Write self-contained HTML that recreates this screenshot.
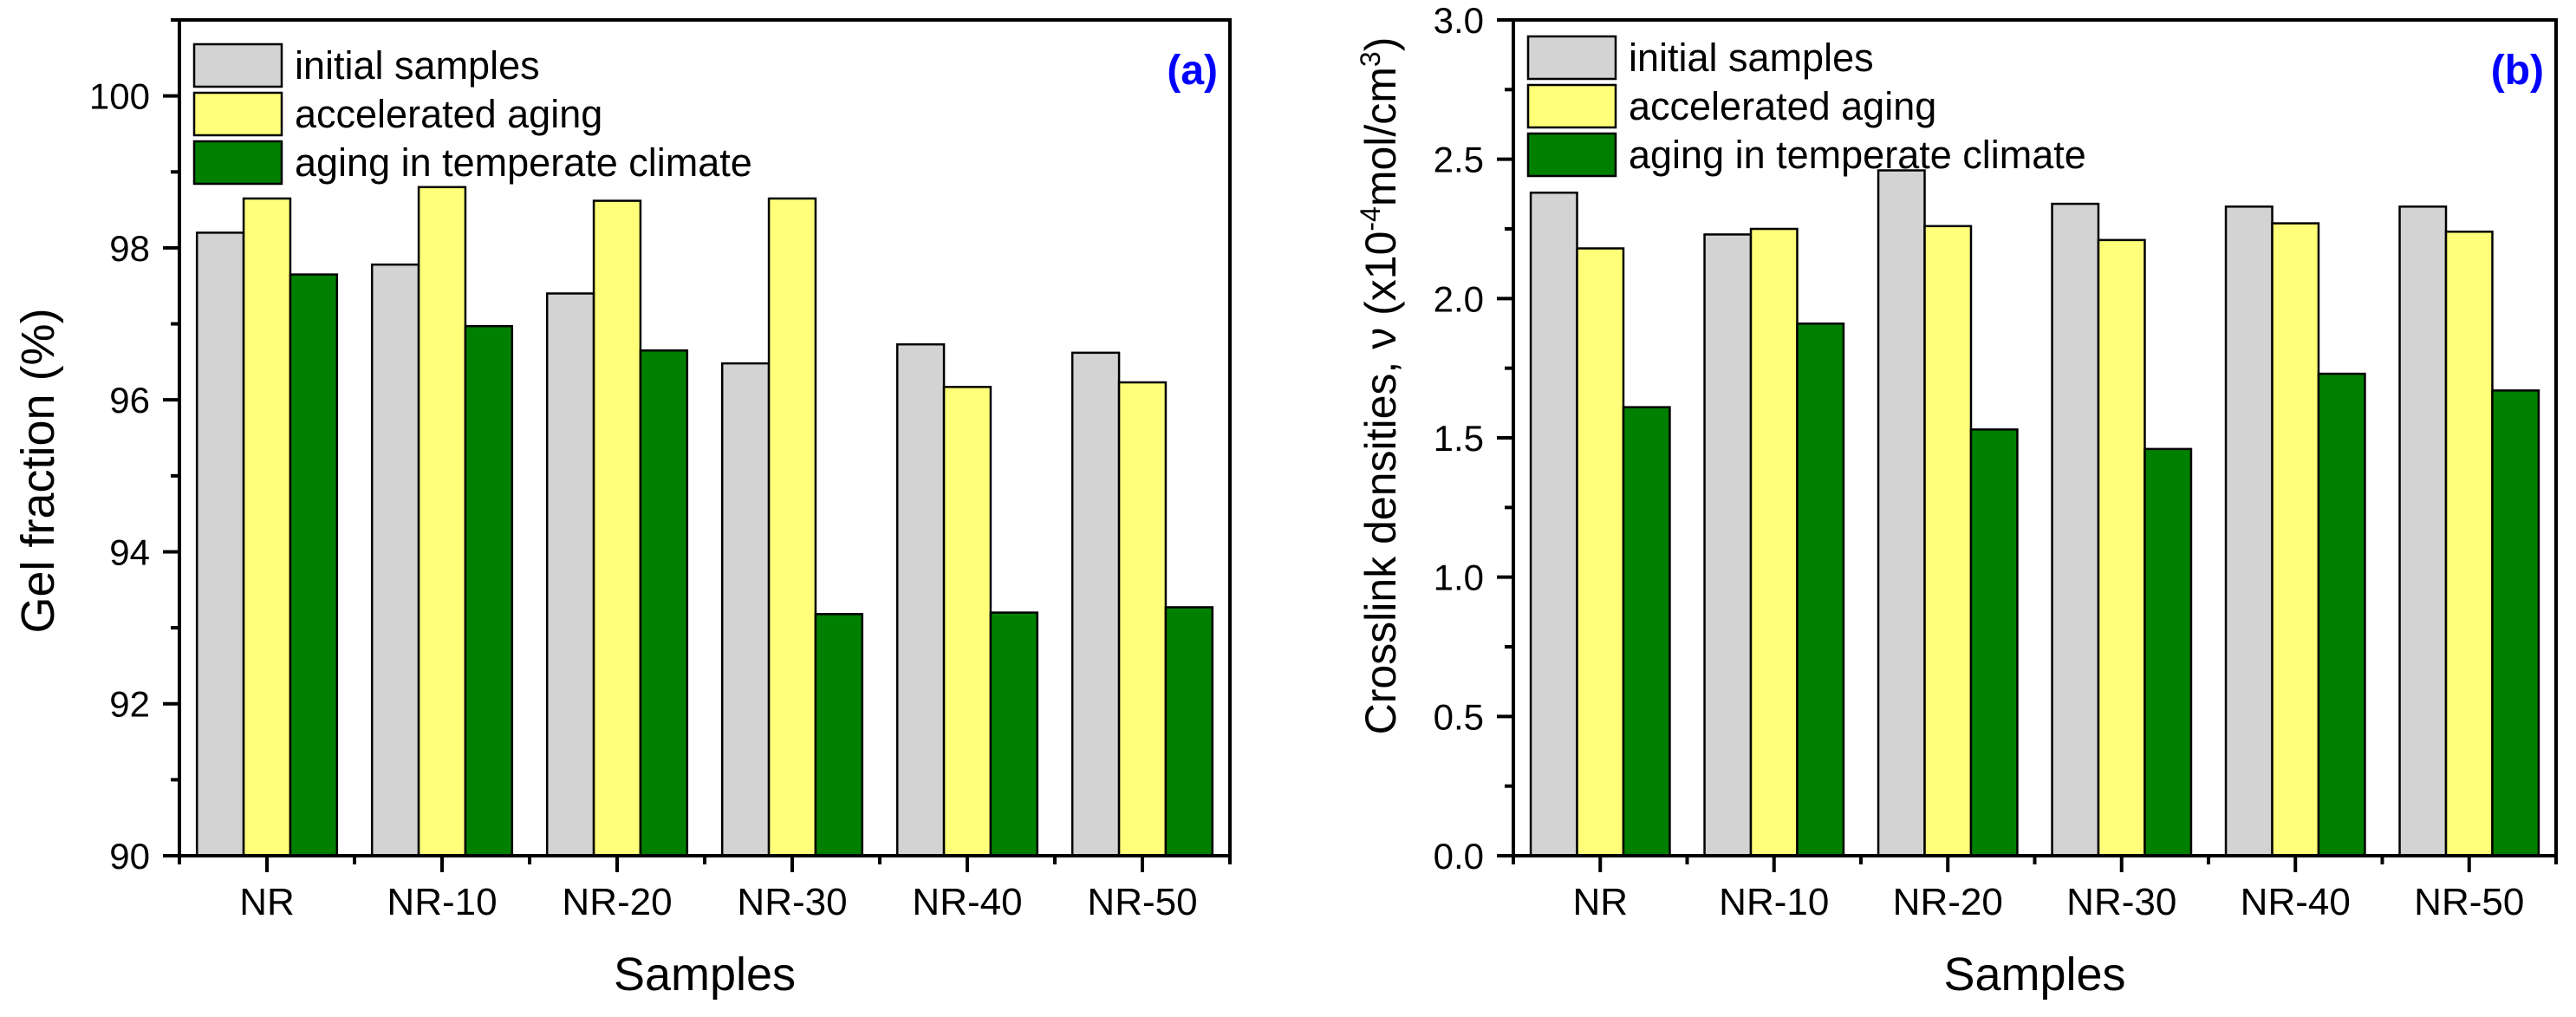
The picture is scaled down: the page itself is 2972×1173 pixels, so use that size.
<!DOCTYPE html>
<html><head><meta charset="utf-8"><style>
html,body{margin:0;padding:0;background:#fff;}
svg text{font-family:"Liberation Sans",Arial,sans-serif;}
</style></head><body>
<svg id="fig" width="2972" height="1168" viewBox="0 0 2972 1168" xmlns="http://www.w3.org/2000/svg"></svg>
<script>
const categories = ["NR","NR-10","NR-20","NR-30","NR-40","NR-50"];
const seriesNames = ["initial samples","accelerated aging","aging in temperate climate"];
const seriesColors = ["#d3d3d3","#ffff7a","#008000"];
const gelInitial = [98.2, 97.78, 97.4, 96.48, 96.73, 96.62];
const gelAccel = [98.65, 98.8, 98.62, 98.65, 96.17, 96.23];
const gelTemperate = [97.65, 96.97, 96.65, 93.18, 93.2, 93.27];
const gelTicks = [90, 92, 94, 96, 98, 100];
const crossInitial = [2.38, 2.23, 2.46, 2.34, 2.33, 2.33];
const crossAccel = [2.18, 2.25, 2.26, 2.21, 2.27, 2.24];
const crossTemperate = [1.61, 1.91, 1.53, 1.46, 1.73, 1.67];
const crossTicks = [0.0, 0.5, 1.0, 1.5, 2.0, 2.5, 3.0];

const NS = "http://www.w3.org/2000/svg";
const svg = document.getElementById("fig");
function mk(tag, attrs, parent, txt){
  const e = document.createElementNS(NS, tag);
  for (const k in attrs) e.setAttribute(k, attrs[k]);
  if (txt !== undefined) e.textContent = txt;
  (parent || svg).appendChild(e);
  return e;
}

function panel(opt){
  const g = mk("g", {});
  
  
  const L = opt.left, R = opt.right, T = 23, B = 987;
  const y = v => B - (v - opt.ymin) / (opt.ymax - opt.ymin) * (B - T);
  const step = (R - L) / categories.length;
  const xc = i => L + step * (i + 0.5);
  const bw = step * 0.8 / 3;
  const series = opt.series;
  for (let s = 0; s < 3; s++) {
    for (let i = 0; i < categories.length; i++) {
      const v = series[s][i];
      const x0 = xc(i) - 1.5 * bw + s * bw;
      const r = mk("rect", {x: x0, y: y(v), width: bw, height: B - y(v), fill: seriesColors[s], stroke: "#000", "stroke-width": 2.5}, g);
      
      
    }
  }
  const fr = mk("rect", {x: L, y: T, width: R - L, height: B - T, fill: "none", stroke: "#000", "stroke-width": 4}, g);
  
  
  for (let k = 0; k < opt.ticks.length; k++) {
    const v = opt.ticks[k];
    mk("line", {x1: L - 19, x2: L, y1: y(v), y2: y(v), stroke: "#000", "stroke-width": 4}, g);
    const t = mk("text", {x: L - 34, y: y(v) + 15, "text-anchor": "end", "font-size": 42, fill: "#000"}, g, opt.fmt(v));
    
    
    if (k < opt.ticks.length - 1) {
      const m = (v + opt.ticks[k + 1]) / 2;
      mk("line", {x1: L - 10, x2: L, y1: y(m), y2: y(m), stroke: "#000", "stroke-width": 4}, g);
    }
  }
  if (opt.ymax > opt.ticks[opt.ticks.length - 1]) {
    const m = opt.ticks[opt.ticks.length - 1] + (opt.ticks[1] - opt.ticks[0]) / 2;
    if (m <= opt.ymax) mk("line", {x1: L - 10, x2: L, y1: y(m), y2: y(m), stroke: "#000", "stroke-width": 4}, g);
  }
  for (let i = 0; i <= categories.length; i++) {
    const xb = L + step * i;
    mk("line", {x1: xb, x2: xb, y1: B, y2: B + 10, stroke: "#000", "stroke-width": 4}, g);
  }
  for (let i = 0; i < categories.length; i++) {
    mk("line", {x1: xc(i), x2: xc(i), y1: B, y2: B + 19, stroke: "#000", "stroke-width": 4}, g);
    const t = mk("text", {x: xc(i), y: 1055, "text-anchor": "middle", "font-size": 44, fill: "#000"}, g, categories[i]);
    
    
  }
  const xt = mk("text", {x: (L + R) / 2, y: 1142, "text-anchor": "middle", "font-size": 54, fill: "#000"}, g, "Samples");
  
  
  for (let s = 0; s < 3; s++) {
    const by = opt.legY + s * 56;
    const lb = mk("rect", {x: L + 17, y: by, width: 101, height: 49, fill: seriesColors[s], stroke: "#000", "stroke-width": 2.5}, g);
    
    
    const lt = mk("text", {x: L + 133, y: by + 40, "font-size": 45, fill: "#000"}, g, seriesNames[s]);
    
    
  }
  const pl = mk("text", {x: R - 14, y: 97, "text-anchor": "end", "font-size": 48, "font-weight": "bold", fill: "#0000ff"}, g, opt.label);
  
  
  return g;
}

panel({name: "gel-fraction-chart", left: 207, right: 1419, ymin: 90, ymax: 101, ticks: gelTicks,
  fmt: v => String(v), series: [gelInitial, gelAccel, gelTemperate], legY: 51, label: "(a)"});
panel({name: "crosslink-density-chart", left: 1746, right: 2949, ymin: 0, ymax: 3, ticks: crossTicks,
  fmt: v => v.toFixed(1), series: [crossInitial, crossAccel, crossTemperate], legY: 42, label: "(b)"});

const yt1 = mk("text", {x: 0, y: 0, "text-anchor": "middle", "font-size": 54, fill: "#000", transform: "translate(62,543) rotate(-90)"}, svg, "Gel fraction (%)");


const yt2 = mk("text", {x: 0, y: 0, "text-anchor": "middle", "font-size": 50, fill: "#000", transform: "translate(1610,445) rotate(-90)"}, svg);


mk("tspan", {}, yt2, "Crosslink densities, ν (x10");
mk("tspan", {dy: -18, "font-size": 32}, yt2, "-4");
mk("tspan", {dy: 18}, yt2, "mol/cm");
mk("tspan", {dy: -18, "font-size": 32}, yt2, "3");
mk("tspan", {dy: 18}, yt2, ")");
</script>
</body></html>
